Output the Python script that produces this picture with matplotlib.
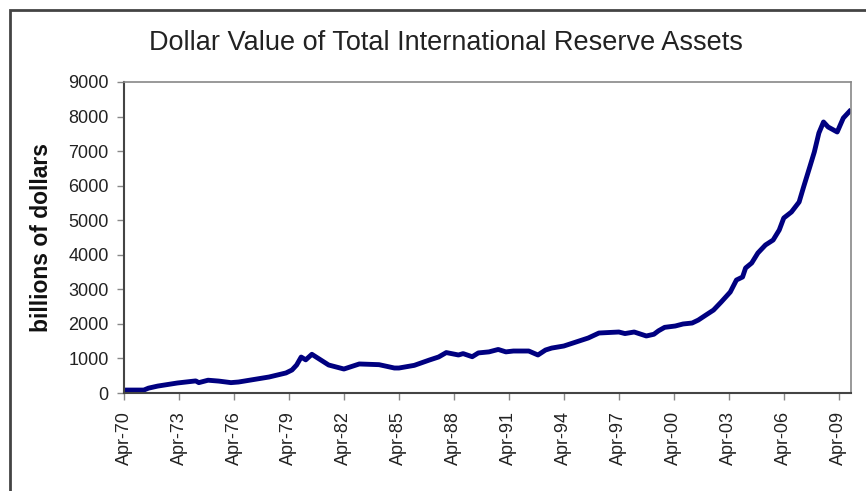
"""Dollar value of total international reserve assets, 1970-2009"""
import matplotlib
matplotlib.use('Agg')
import matplotlib.pyplot as plt
import matplotlib.patches as patches
import numpy as np
import pandas as pd

plt.rcParams['font.family'] = ['Liberation Sans', 'DejaVu Sans']

# ============================================================================
# DATA (billions of dollars)
# ============================================================================
months = [
    '1970-04', '1971-05', '1971-08', '1972-02', '1973-03', '1974-03', '1974-05',
    '1974-11', '1975-06', '1976-02', '1976-07', '1977-03', '1978-03', '1979-02',
    '1979-06', '1979-09', '1979-12', '1980-03', '1980-07', '1981-06', '1982-04',
    '1983-02', '1984-03', '1985-01', '1985-04', '1986-02', '1986-12', '1987-06',
    '1987-11', '1988-07', '1988-10', '1989-04', '1989-08', '1990-03', '1990-09',
    '1991-02', '1991-07', '1992-05', '1992-11', '1993-04', '1993-08', '1994-04',
    '1994-10', '1995-08', '1996-03', '1997-04', '1997-08', '1998-02', '1998-10',
    '1999-03', '1999-06', '1999-10', '2000-05', '2000-10', '2001-04', '2001-08',
    '2002-01', '2002-06', '2002-11', '2003-05', '2003-09', '2004-01', '2004-03',
    '2004-07', '2004-11', '2005-04', '2005-09', '2006-01', '2006-04', '2006-09',
    '2007-02', '2007-05', '2007-09', '2007-12', '2008-03', '2008-06', '2008-09',
    '2009-03', '2009-05', '2009-07', '2009-11',
]
reserves = [
    85, 85, 140, 200, 290, 350, 300,
    370, 345, 300, 318, 376, 463, 580,
    666, 810, 1040, 960, 1120, 810, 694,
    840, 820, 723, 723, 800, 955, 1042,
    1170, 1100, 1140, 1050, 1160, 1190, 1260,
    1190, 1215, 1215, 1100, 1244, 1300, 1360,
    1447, 1592, 1736, 1765, 1720, 1765, 1650,
    1700, 1800, 1900, 1939, 1997, 2025, 2110,
    2257, 2400, 2633, 2923, 3270, 3357, 3617,
    3762, 4051, 4283, 4427, 4717, 5064, 5238,
    5527, 5961, 6540, 6974, 7524, 7843, 7698,
    7553, 7756, 7958, 8150,
]
tick_years = list(range(1970, 2010, 3))
tick_labels = [f'Apr-{y % 100:02d}' for y in tick_years]
y_ticks = list(range(0, 9001, 1000))

dates = pd.to_datetime(months)
tick_dates = pd.to_datetime([f'{y}-04-01' for y in tick_years])

# ============================================================================
# PLOTTING
# ============================================================================
W, H = 866, 491
fig = plt.figure(figsize=(W / 100, H / 100), dpi=100)
ax = fig.add_axes([124 / W, 1 - 393 / H, (851 - 124) / W, (393 - 82) / H])

ax.plot(dates, reserves, color='#000080', linewidth=3.5, solid_joinstyle='round')

ax.set_xlim(pd.Timestamp('1970-04-01'), pd.Timestamp('2009-12-01'))
ax.set_ylim(0, 9000)
ax.set_yticks(y_ticks)
ax.set_xticks(tick_dates)
ax.set_xticklabels(tick_labels, rotation=90)

ax.tick_params(axis='both', direction='out', length=5, width=1, color='#888888',
               labelsize=13, labelcolor='#222222')
ax.tick_params(axis='x', pad=8)
ax.tick_params(axis='y', pad=6)

for side in ['top', 'right']:
    ax.spines[side].set_color('#888888')
    ax.spines[side].set_linewidth(1.2)
for side in ['left', 'bottom']:
    ax.spines[side].set_color('#444444')
    ax.spines[side].set_linewidth(1.5)

# Titles
fig.text(446 / W, 1 - 43 / H, 'Dollar Value of Total International Reserve Assets',
         ha='center', va='center', fontsize=19.5, color='#222222')
fig.text(42 / W, 1 - 237 / H, 'billions of dollars', rotation=90,
         ha='center', va='center', fontsize=16.5, fontweight='bold', color='#111111')

# Outer chart frame (cut at right and bottom edges)
frame = patches.Rectangle((10 / W, -1), 2, 2 - 10 / H, transform=fig.transFigure,
                          fill=False, edgecolor='#444444', linewidth=2)
fig.patches.append(frame)

fig.savefig('out.png', dpi=100)
